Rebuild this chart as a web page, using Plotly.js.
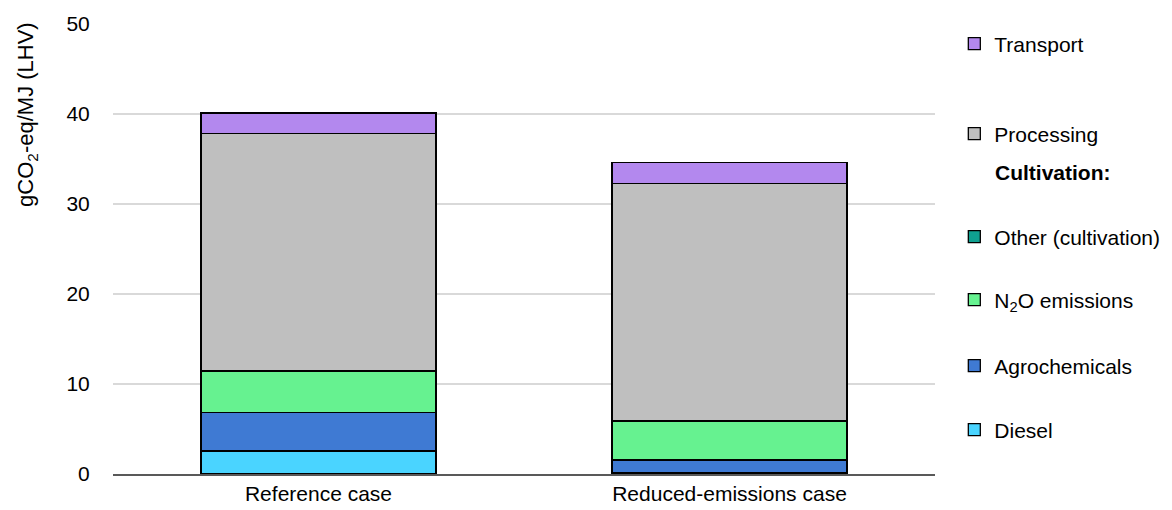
<!DOCTYPE html>
<html><head><meta charset="utf-8">
<script src="https://cdn.plot.ly/plotly-3.0.1.min.js"></script>
<style>body{margin:0;background:#fff}#chart{width:1172px;height:510px}</style>
</head><body><div id="chart"></div>
<script>
const categories = ["Reference case", "Reduced-emissions case"];
const diesel = [2.55, 0.2];
const agrochemicals = [4.25, 1.35];
const n2o = [4.6, 4.35];
const otherCultivation = [0.1, 0.05];
const processing = [26.3, 26.35];
const transport = [2.3, 2.3];
const seriesNames = ["Diesel", "Agrochemicals", "N<sub>2</sub>O emissions", "Other (cultivation)", "Processing", "Transport"];
const seriesValues = [diesel, agrochemicals, n2o, otherCultivation, processing, transport];
const colors = ["#4ad4ff", "#3f7ad3", "#66f290", "#0fa090", "#bfbfbf", "#b388ee"];
const legendY = [0.0978, 0.24, 0.3867, 0.5267, 0.7556, 0.9556];
const legendIds = ["legend", "legend2", "legend3", "legend4", "legend5", "legend6"];
const yTitle = "gCO<sub>2</sub>-eq/MJ (LHV)";

const font = {family: "Liberation Sans, Arial, sans-serif", color: "#000"};
const traces = seriesNames.map((n, i) => ({
  type: "bar", name: n, x: categories, y: seriesValues[i],
  marker: {color: colors[i], line: {color: "#000", width: 1.3}},
  width: 0.572, legend: legendIds[i], hoverinfo: "skip"
}));

const layout = {
  width: 1172, height: 510, barmode: "stack",
  margin: {l: 113, r: 237, t: 24, b: 36, autoexpand: false},
  paper_bgcolor: "#fff", plot_bgcolor: "#fff",
  font: Object.assign({size: 21}, font),
  xaxis: {type: "category", range: [-0.5, 1.5], showline: true, linecolor: "#595959", linewidth: 1.5,
          ticks: "", tickfont: Object.assign({size: 21}, font), showgrid: false},
  yaxis: {range: [0, 50], dtick: 10, showgrid: true, gridcolor: "#d9d9d9", gridwidth: 1.3,
          zeroline: false, showline: false, ticks: "outside", ticklen: 18, tickcolor: "rgba(0,0,0,0)",
          tickfont: Object.assign({size: 21}, font)},
  annotations: [
    {xref: "paper", yref: "paper", x: 1.0706, y: 0.671, xanchor: "left", yanchor: "middle",
     text: "<b>Cultivation:</b>", showarrow: false, font: Object.assign({size: 21}, font)},
    {xref: "paper", yref: "paper", x: -0.1046, y: 0.798, xanchor: "center", yanchor: "middle",
     textangle: -90, text: yTitle, showarrow: false, font: Object.assign({size: 22}, font)}
  ],
  showlegend: true
};
legendIds.forEach((id, i) => {
  layout[id] = {x: 1.0235, y: legendY[i], xanchor: "left", yanchor: "middle",
                bgcolor: "rgba(0,0,0,0)", borderwidth: 0, font: Object.assign({size: 21}, font)};
});
Plotly.newPlot("chart", traces, layout, {displayModeBar: false, staticPlot: true});
</script></body></html>
